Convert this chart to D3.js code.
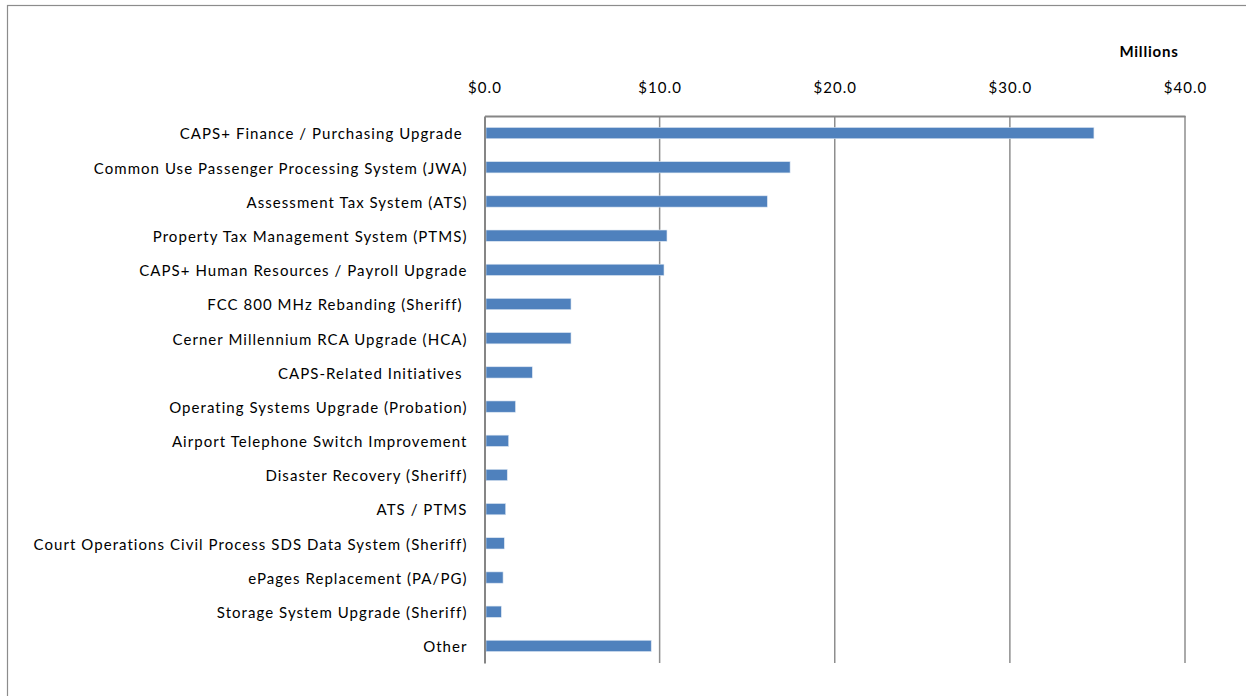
<!DOCTYPE html>
<html>
<head>
<meta charset="utf-8">
<script src="https://cdn.jsdelivr.net/npm/d3@7"></script>
<style>
  html, body { margin: 0; padding: 0; background: #fff; }
  svg { display: block; }
  text { font-family: Lato, "Open Sans", sans-serif; fill: #000; }
</style>
</head>
<body>
<svg id="chart" width="1246" height="696"></svg>
<script>
// Project names, top to bottom
const projects = [
  "CAPS+ Finance / Purchasing Upgrade ",
  "Common Use Passenger Processing System (JWA)",
  "Assessment Tax System (ATS)",
  "Property Tax Management System (PTMS)",
  "CAPS+ Human Resources / Payroll Upgrade",
  "FCC 800 MHz Rebanding (Sheriff) ",
  "Cerner Millennium RCA Upgrade (HCA)",
  "CAPS-Related Initiatives ",
  "Operating Systems Upgrade (Probation)",
  "Airport Telephone Switch Improvement",
  "Disaster Recovery (Sheriff)",
  "ATS / PTMS",
  "Court Operations Civil Process SDS Data System (Sheriff)",
  "ePages Replacement (PA/PG)",
  "Storage System Upgrade (Sheriff)",
  "Other"
];

// Cost in millions of dollars
const costs = [34.8, 17.45, 16.15, 10.42, 10.25, 4.94, 4.94, 2.73, 1.77, 1.38, 1.30, 1.21, 1.13, 1.06, 0.96, 9.52];

const tickValues = [0, 10, 20, 30, 40];
const unitLabel = "Millions";

const labelFont = { family: "Lato, 'Open Sans', sans-serif", size: "15px", spacing: "1.05px" };

const svg = d3.select("#chart");

// outer chart frame
svg.append("rect")
  .attr("x", 7.5).attr("y", 5.5)
  .attr("width", 1300).attr("height", 800)
  .attr("fill", "none")
  .attr("stroke", "#8c8c8c")
  .attr("stroke-width", 1.2);

const plot = { left: 484.5, right: 1185, top: 116, bottom: 663 };

const x = d3.scaleLinear().domain([0, 40]).range([plot.left, plot.right]);
const y = d3.scaleBand().domain(projects)
  .range([plot.top, plot.bottom])
  .paddingInner(0.67).paddingOuter(0.335);

// vertical gridlines
svg.append("g")
  .selectAll("line")
  .data(tickValues.filter(v => v > 0))
  .join("line")
  .attr("x1", d => x(d)).attr("x2", d => x(d))
  .attr("y1", plot.top).attr("y2", plot.bottom)
  .attr("stroke", "#8e8e8e")
  .attr("stroke-width", 1.5);

// bars
svg.append("g")
  .selectAll("rect")
  .data(projects)
  .join("rect")
  .attr("x", x(0) + 1.5)
  .attr("y", d => y(d))
  .attr("width", (d, i) => x(costs[i]) - x(0) - 1.5)
  .attr("height", y.bandwidth())
  .attr("fill", "#4f81bd")
  .attr("stroke", "#dce6f2")
  .attr("stroke-width", 0.6);

// value axis along the top
const xAxis = d3.axisTop(x)
  .tickValues(tickValues)
  .tickSize(0)
  .tickPadding(0)
  .tickFormat(d => "$" + d3.format(".1f")(d));

const gx = svg.append("g")
  .attr("transform", `translate(0,${plot.top})`)
  .call(xAxis);
gx.select(".domain")
  .attr("stroke", "#868686")
  .attr("stroke-width", 2);
gx.selectAll(".tick text")
  .attr("y", 93 - plot.top)
  .attr("dy", null)
  .style("font-size", labelFont.size)
  .style("font-family", labelFont.family)
  .style("letter-spacing", labelFont.spacing)
  .attr("fill", "#000");

// category axis on the left
const yAxis = d3.axisLeft(y).tickSize(0).tickPadding(17);
const gy = svg.append("g")
  .attr("transform", `translate(${plot.left},0)`)
  .call(yAxis);
gy.select(".domain")
  .attr("stroke", "#868686")
  .attr("stroke-width", 2);
gy.selectAll(".tick text")
  .attr("dy", "0.42em")
  .style("white-space", "pre")
  .style("font-size", labelFont.size)
  .style("font-family", labelFont.family)
  .style("letter-spacing", labelFont.spacing)
  .attr("fill", "#000");

// unit label
svg.append("text")
  .attr("x", 1149)
  .attr("y", 56.5)
  .attr("text-anchor", "middle")
  .style("font-size", "15px")
  .style("font-weight", "bold")
  .style("letter-spacing", "0.8px")
  .text(unitLabel);
</script>
</body>
</html>
